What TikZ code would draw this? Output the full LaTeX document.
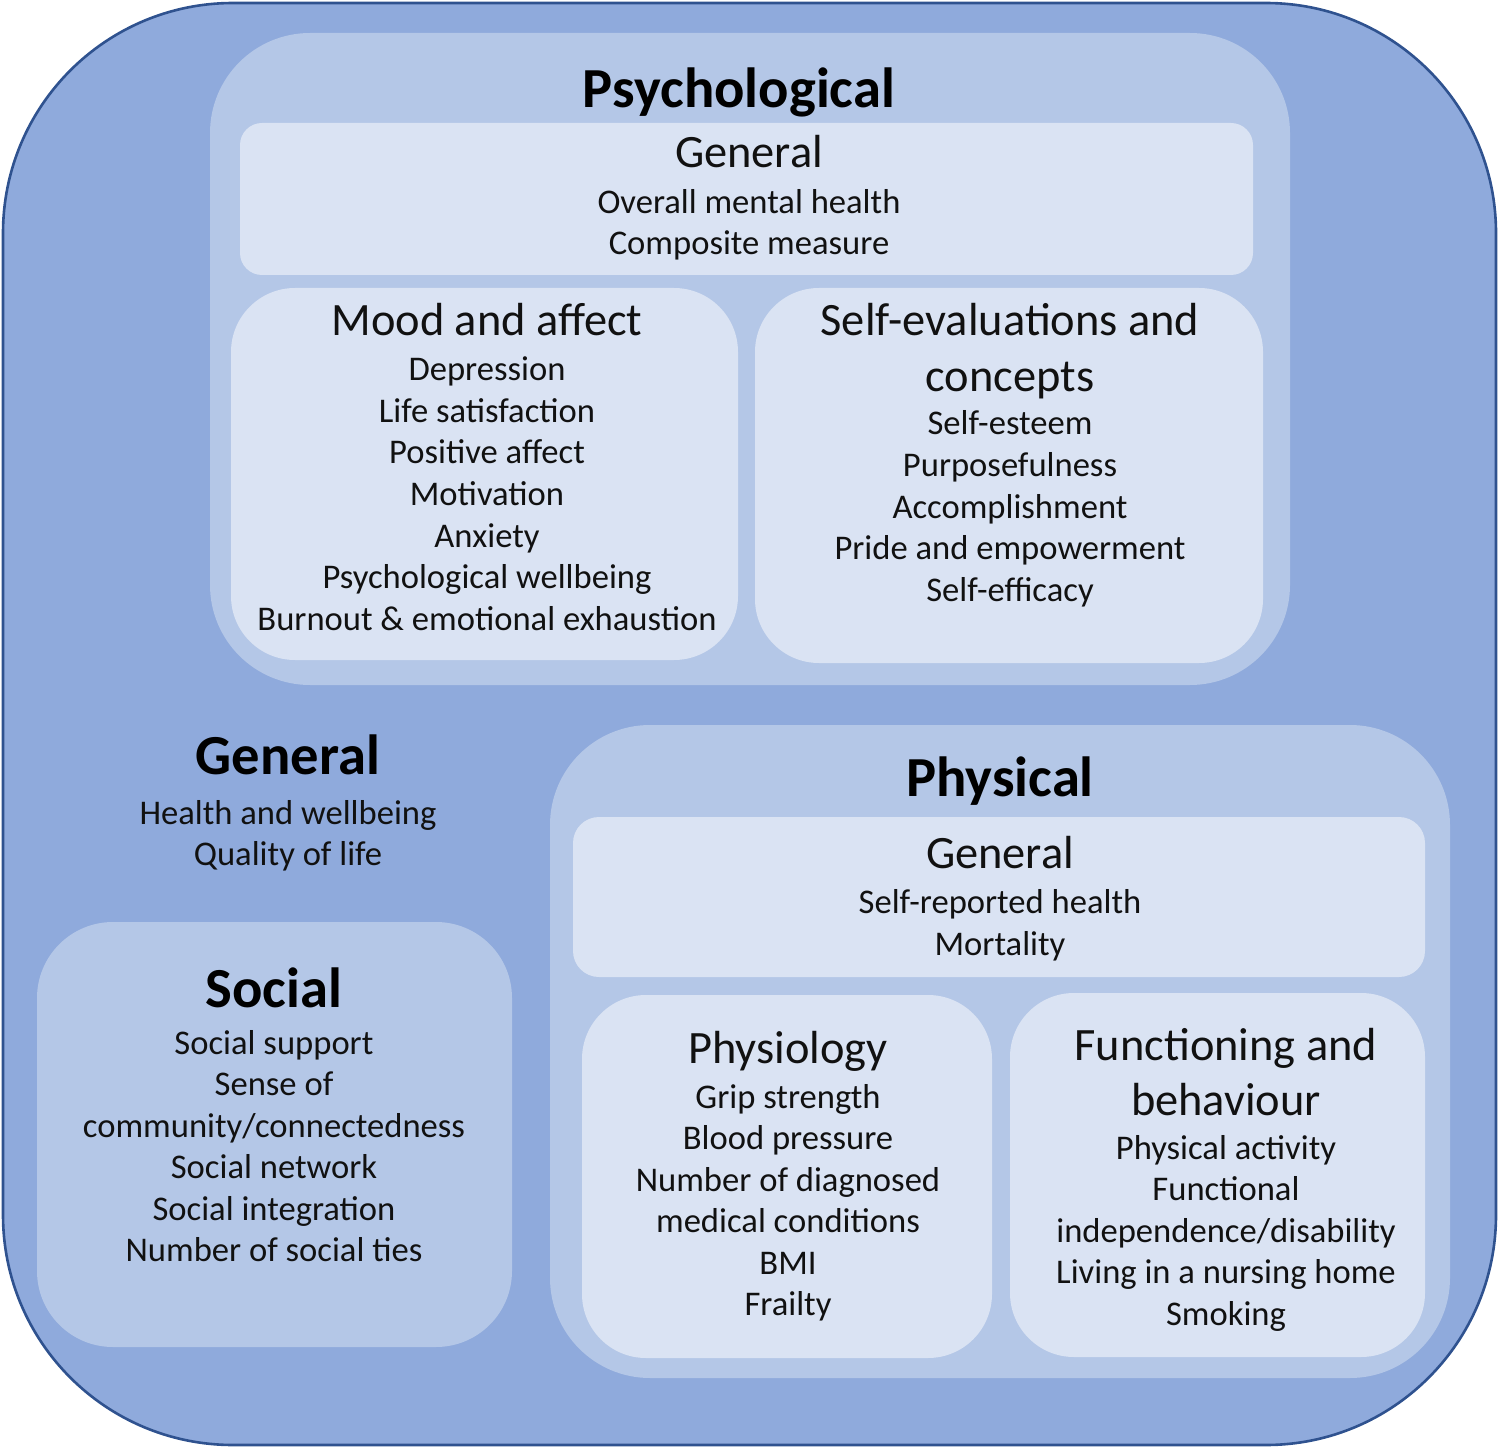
\documentclass[tikz,border=0pt]{standalone}
\usepackage{fontspec}
\setmainfont{Carlito}
\definecolor{outerfill}{HTML}{8FAADC}
\definecolor{outerline}{HTML}{2F528F}
\definecolor{midfill}{HTML}{B4C7E7}
\definecolor{innerfill}{HTML}{DAE3F3}
\definecolor{txt}{HTML}{111111}
\tikzset{
  body/.style={font=\fontsize{17.3}{20.75}\selectfont, inner sep=0pt, anchor=base, text=txt},
  subhead/.style={font=\fontsize{23.2}{27.8}\selectfont, inner sep=0pt, anchor=base, text=txt},
  title/.style={font=\fontsize{28.3}{34}\selectfont\bfseries, inner sep=0pt, anchor=base, text=black},
  midbox/.style={fill=midfill, draw=none},
  innerbox/.style={fill=innerfill, draw=none},
}
\begin{document}
\begin{tikzpicture}[x=0.5pt,y=-0.5pt]
\useasboundingbox (0,0) rectangle (1499,1449);
% outer
\draw[fill=outerfill, draw=outerline, line width=1.3pt, rounded corners=115pt] (3,3) rectangle (1496,1445);
% psychological
\path[midbox, rounded corners=50pt] (210,33) rectangle (1290,685);
\path[innerbox, rounded corners=11pt] (240,123) rectangle (1253,275);
\path[innerbox, rounded corners=32pt] (231,288) rectangle (738,660);
\path[innerbox, rounded corners=32pt] (755,288) rectangle (1263,663);
% physical
\path[midbox, rounded corners=50pt] (550,725) rectangle (1450,1378);
\path[innerbox, rounded corners=13pt] (573,817) rectangle (1425,977);
\path[innerbox, rounded corners=32pt] (582,995) rectangle (992,1358);
\path[innerbox, rounded corners=32pt] (1010,993) rectangle (1425,1357);
% social
\path[midbox, rounded corners=38pt] (37,922) rectangle (512,1347);

% Psychological texts
\node[title] (psy) at (739,108) {Psychological};
\node[subhead] (psygen) at (749,168) {General};
\foreach \t [count=\i from 0] in {{Overall mental health},{Composite measure}}
  \node[body] (psygen\i) at (749,{213.5+\i*41.5}) {\t};
\node[subhead] (mood) at (487,336) {Mood and affect};
\foreach \t [count=\i from 0] in {Depression,{Life satisfaction},{Positive affect},Motivation,Anxiety,{Psychological wellbeing},{Burnout \& emotional exhaustion}}
  \node[body] (mood\i) at (487,{381+\i*41.5}) {\t};
\node[subhead] (self1) at (1010,336) {Self-evaluations and};
\node[subhead] (self2) at (1010,392) {concepts};
\foreach \t [count=\i from 0] in {Self-esteem,Purposefulness,Accomplishment,{Pride and empowerment},Self-efficacy}
  \node[body] (self\i i) at (1010,{435+\i*41.5}) {\t};

% General
\node[title] (gen) at (288,774) {General};
\node[body] (gen1) at (288,824) {Health and wellbeing};
\node[body] (gen2) at (288,865.5) {Quality of life};

% Physical
\node[title] (phy) at (1000,796) {Physical};
\node[subhead] (phygen) at (1000,868) {General};
\node[body] (phygen1) at (1000,913) {Self-reported health};
\node[body] (phygen2) at (1000,955) {Mortality};
\node[subhead] (physio) at (788,1063) {Physiology};
\foreach \t [count=\i from 0] in {{Grip strength},{Blood pressure},{Number of diagnosed},{medical conditions},BMI,Frailty}
  \node[body] (physio\i) at (788,{1108+\i*41.5}) {\t};
\node[subhead] (func1) at (1226,1060) {Functioning and};
\node[subhead] (func2) at (1226,1115) {behaviour};
\foreach \t [count=\i from 0] in {{Physical activity},Functional,{independence/disability},{Living in a nursing home},Smoking}
  \node[body] (func\i i) at (1226,{1159+\i*41.5}) {\t};

% Social
\node[title] (soc) at (274,1007) {Social};
\foreach \t [count=\i from 0] in {{Social support},{Sense of},{community/connectedness},{Social network},{Social integration},{Number of social ties}}
  \node[body] (soc\i) at (274,{1054+\i*41.5}) {\t};
\end{tikzpicture}
\end{document}
